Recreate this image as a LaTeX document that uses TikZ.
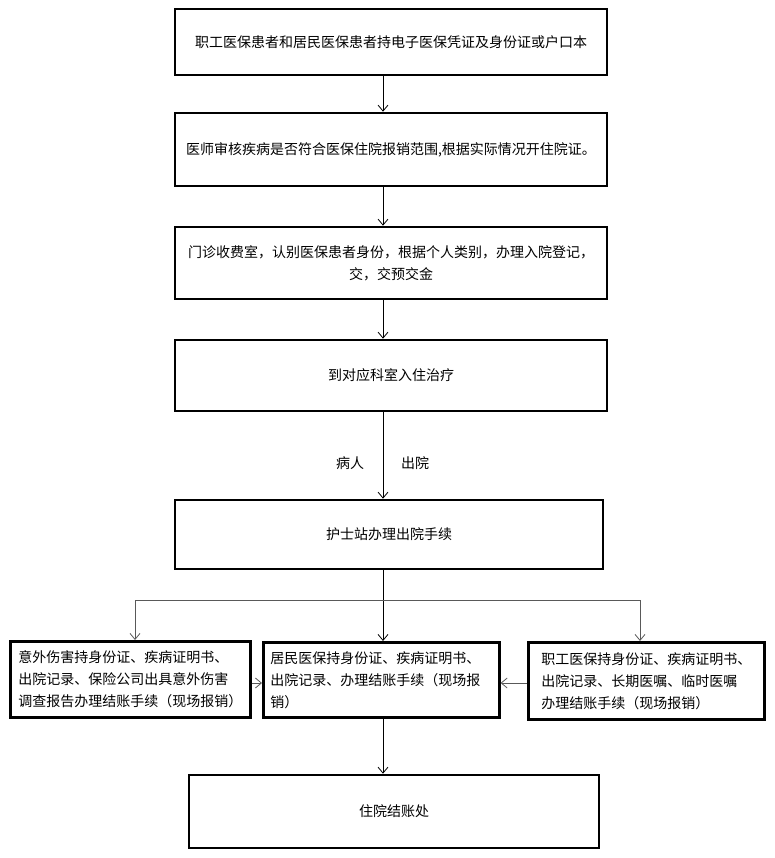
\documentclass[tikz,border=0pt]{standalone}
\usepackage{fontspec}
\setmainfont{Noto Sans CJK SC}
\usetikzlibrary{arrows.meta}
\begin{document}
\begin{tikzpicture}[x=1pt,y=-1pt,
  box/.style={draw=black,line width=2.6pt,rectangle,inner sep=0pt,font=\fontsize{14}{22}\selectfont,align=center},
  sidebox/.style={draw=black,line width=2.6pt,rectangle,inner xsep=7pt,inner ysep=4pt,font=\fontsize{14}{22}\selectfont,align=left,anchor=north west},
  conn/.style={line width=0.8pt,-{Straight Barb[length=6pt,width=10pt]}},
  gconn/.style={conn,draw=black!65},
  lbl/.style={font=\fontsize{14}{16}\selectfont}]
\useasboundingbox (0,0) rectangle (775,858);
\node[box,minimum width=432pt,minimum height=66pt] (b1) at (391,42) {职工医保患者和居民医保患者持电子医保凭证及身份证或户口本};
\node[box,minimum width=432pt,minimum height=73pt] (b2) at (391,149.5) {医师审核疾病是否符合医保住院报销范围,根据实际情况开住院证。};
\node[box,minimum width=432pt,minimum height=72pt] (b3) at (391,263) {门诊收费室，认别医保患者身份，根据个人类别，办理入院登记，\\交，交预交金};
\node[box,minimum width=432pt,minimum height=71pt] (b4) at (391,375.5) {到对应科室入住治疗};
\node[box,minimum width=428pt,minimum height=69pt] (b5) at (389,534.5) {护士站办理出院手续};
\node[sidebox,minimum width=240pt,minimum height=76pt] (lb) at (9,640) {意外伤害持身份证、疾病证明书、\\出院记录、保险公司出具意外伤害\\调查报告办理结账手续（现场报销）};
\node[sidebox,minimum width=236pt,minimum height=75pt,text width=222pt] (mb) at (262,641) {居民医保持身份证、疾病证明书、\\出院记录、办理结账手续（现场报\\销）};
\node[sidebox,minimum width=236pt,minimum height=77pt] (rb) at (527,641) {职工医保持身份证、疾病证明书、\\出院记录、长期医嘱、临时医嘱\\办理结账手续（现场报销）};
\node[box,minimum width=410pt,minimum height=73pt] (b6) at (394,811.5) {住院结账处};
\node[lbl] (l1) at (350,463) {病人};
\node[lbl] (l2) at (415,463) {出院};
\coordinate (cx) at (383,0);
\draw[conn] (cx |- b1.south) -- (cx |- b2.north);
\draw[conn] (cx |- b2.south) -- (cx |- b3.north);
\draw[conn] (cx |- b3.south) -- (cx |- b4.north);
\draw[conn] (cx |- b4.south) -- (cx |- b5.north);
\draw[conn] (cx |- b5.south) -- (cx |- mb.north);
\coordinate (bl) at (135,600);
\coordinate (br) at (640,600);
\draw[line width=0.8pt,draw=black!65] (bl) -- (br);
\draw[gconn] (bl) -- (bl |- lb.north);
\draw[gconn] (br) -- (br |- rb.north);
\draw[gconn] (lb.east |- 0,683) -- (mb.west |- 0,683);
\draw[gconn] (rb.west |- 0,683) -- (mb.east |- 0,683);
\draw[conn] (cx |- mb.south) -- (cx |- b6.north);
\end{tikzpicture}
\end{document}
